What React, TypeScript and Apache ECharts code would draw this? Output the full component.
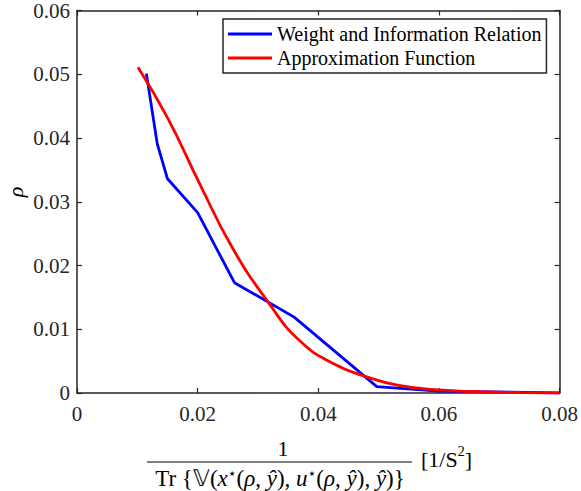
import React, { useEffect, useRef } from "react";
import * as echarts from "echarts";

const blueX = [0.0115, 0.0133, 0.0150, 0.0200, 0.0261, 0.0360, 0.0497, 0.0599, 0.0800];
const blueY = [0.0501, 0.0391, 0.0336, 0.0283, 0.0173, 0.0119, 0.0010, 0.0003, 0.0000];
const redX = [0.0101, 0.0151, 0.0203, 0.0258, 0.0318, 0.0368, 0.0423, 0.0478, 0.0533, 0.0599, 0.0709, 0.0800];
const redY = [0.0511, 0.0430, 0.0329, 0.0227, 0.0141, 0.0083, 0.0047, 0.0026, 0.0012, 0.0005, 0.0001, 0.0000];
const seriesNames = ["Weight and Information Relation", "Approximation Function"];

const FONT = "Liberation Serif";
const AX = "#262626";

export default function App() {
  const ref = useRef<HTMLDivElement>(null);
  useEffect(() => {
    if (!ref.current) return;
    const chart = echarts.init(ref.current, undefined, { renderer: "svg" });
    const fmt = (v: number) => "{t|" + (v === 0 ? "0" : v.toFixed(2)) + "}";
    const tickRich = { t: { fontFamily: FONT, fontSize: 21, color: AX, lineHeight: 22 } };
    const axisCommon = {
      type: "value" as const,
      axisLine: { show: true, onZero: false, lineStyle: { color: AX, width: 1.5 } },
      axisTick: { show: true, inside: true, length: 5, lineStyle: { color: AX, width: 1.2 } },
      splitLine: { show: false },
    };
    chart.setOption({
      animation: false,
      backgroundColor: "#ffffff",
      textStyle: { fontFamily: FONT },
      grid: { left: 77, right: 19, top: 10, bottom: 98, containLabel: false },
      xAxis: [
        {
          ...axisCommon,
          position: "bottom",
          min: 0,
          max: 0.08,
          interval: 0.02,
          axisLabel: { fontFamily: FONT, fontSize: 21, color: AX, margin: 10, formatter: fmt, rich: tickRich },
        },
        {
          ...axisCommon,
          position: "top",
          min: 0,
          max: 0.08,
          interval: 0.02,
          axisLabel: { show: false },
        },
      ],
      yAxis: [
        {
          ...axisCommon,
          position: "left",
          min: 0,
          max: 0.06,
          interval: 0.01,
          axisLabel: { fontFamily: FONT, fontSize: 21, color: AX, margin: 7, formatter: fmt, rich: tickRich },
        },
        {
          ...axisCommon,
          position: "right",
          min: 0,
          max: 0.06,
          interval: 0.01,
          axisLabel: { show: false },
        },
      ],
      legend: {
        show: true,
        orient: "vertical",
        left: 223,
        top: 19,
        padding: [4, 5, 4, 5],
        itemGap: 2,
        itemWidth: 44,
        itemHeight: 3,
        icon: "rect",
        backgroundColor: "#ffffff",
        borderColor: AX,
        borderWidth: 1.5,
        borderRadius: 0,
        formatter: "{l|{name}}",
        textStyle: {
          fontFamily: FONT,
          fontSize: 20,
          color: "#000000",
          lineHeight: 22,
          rich: { l: { fontFamily: FONT, fontSize: 20, color: "#000000", lineHeight: 22 } },
        },
        data: seriesNames,
      },
      series: [
        {
          name: seriesNames[0],
          type: "line",
          symbol: "none",
          lineStyle: { color: "#0000ff", width: 2.8 },
          itemStyle: { color: "#0000ff" },
          data: blueX.map((x, i) => [x, blueY[i]]),
          z: 2,
        },
        {
          name: seriesNames[1],
          type: "line",
          symbol: "none",
          smooth: 0.5,
          lineStyle: { color: "#ff0000", width: 2.8 },
          itemStyle: { color: "#ff0000" },
          data: redX.map((x, i) => [x, redY[i]]),
          z: 3,
        },
      ],
      graphic: [
        {
          type: "text",
          x: 15,
          y: 192,
          rotation: Math.PI / 2,
          style: {
            text: "ρ",
            fontFamily: FONT,
            fontStyle: "italic",
            fontSize: 22,
            fill: "#000",
            align: "center",
            verticalAlign: "middle",
          },
        },
        {
          type: "text",
          x: 283,
          y: 448,
          style: {
            text: "1",
            fontFamily: FONT,
            fontSize: 22,
            fill: "#000",
            align: "center",
            verticalAlign: "middle",
          },
        },
        {
          type: "line",
          shape: { x1: 147, y1: 462, x2: 412, y2: 462 },
          style: { stroke: "#000", lineWidth: 1 },
        },
        {
          type: "text",
          x: 280,
          y: 478,
          style: {
            text:
              "{n|Tr {𝕍(}{i|x}{s|⋆}{n|(}{i|ρ}{n|, }{i|ŷ}{n|), }{i|u}{s|⋆}{n|(}{i|ρ}{n|, }{i|ŷ}{n|), }{i|ŷ}{n|)}}",
            fontFamily: FONT,
            fontSize: 23,
            fill: "#000",
            align: "center",
            verticalAlign: "middle",
            rich: {
              n: { fontFamily: FONT, fontSize: 23, fill: "#000", lineHeight: 24, verticalAlign: "bottom" },
              i: { fontFamily: FONT, fontStyle: "italic", fontSize: 23, fill: "#000", lineHeight: 24, verticalAlign: "bottom" },
              s: { fontFamily: "DejaVu Sans", fontSize: 14, fill: "#000", lineHeight: 24, verticalAlign: "top" },
            },
          },
        },
        {
          type: "text",
          x: 421,
          y: 457,
          style: {
            text: "{n|[1/S}{s|2}{n|]}",
            align: "left",
            verticalAlign: "middle",
            rich: {
              n: { fontFamily: FONT, fontSize: 22, fill: "#000", lineHeight: 26, verticalAlign: "bottom" },
              s: { fontFamily: FONT, fontSize: 14, fill: "#000", lineHeight: 26, verticalAlign: "top" },
            },
          },
        },
      ],
    });
    return () => chart.dispose();
  }, []);
  return <div ref={ref} style={{ width: 581, height: 491, position: "absolute", left: 0, top: 0 }} />;
}
